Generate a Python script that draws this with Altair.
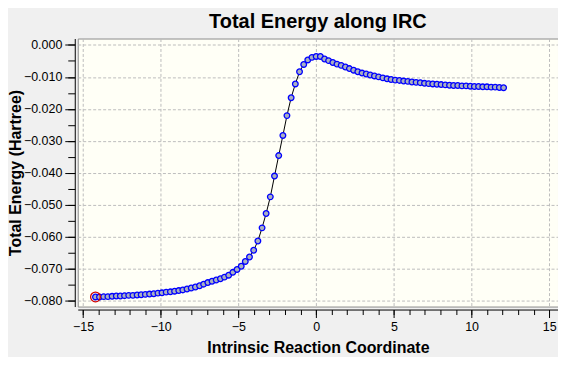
import altair as alt
import pandas as pd

# IRC coordinate (evenly spaced steps)
irc_x = [-14.20, -13.94, -13.67, -13.40, -13.13, -12.86, -12.60, -12.33, -12.06, -11.79,
         -11.52, -11.26, -10.99, -10.72, -10.45, -10.18, -9.92, -9.65, -9.38, -9.11,
         -8.84, -8.58, -8.31, -8.04, -7.77, -7.50, -7.24, -6.97, -6.70, -6.43,
         -6.16, -5.90, -5.63, -5.36, -5.09, -4.82, -4.56, -4.29, -4.02, -3.75,
         -3.48, -3.22, -2.95, -2.68, -2.41, -2.14, -1.88, -1.61, -1.34, -1.07,
         -0.80, -0.54, -0.27, 0.00, 0.27, 0.54, 0.80, 1.07, 1.34, 1.61,
         1.88, 2.14, 2.41, 2.68, 2.95, 3.22, 3.48, 3.75, 4.02, 4.29,
         4.56, 4.82, 5.09, 5.36, 5.63, 5.90, 6.16, 6.43, 6.70, 6.97,
         7.24, 7.50, 7.77, 8.04, 8.31, 8.58, 8.84, 9.11, 9.38, 9.65,
         9.92, 10.18, 10.45, 10.72, 10.99, 11.26, 11.52, 11.79, 12.06]

# Total energy (Hartree, relative)
energy = [-0.0788, -0.0788, -0.0787, -0.0787, -0.0786, -0.0785, -0.0785, -0.0784, -0.0783, -0.0783,
          -0.0782, -0.0781, -0.0780, -0.0779, -0.0778, -0.0776, -0.0775, -0.0773, -0.0772, -0.0770,
          -0.0768, -0.0766, -0.0763, -0.0760, -0.0757, -0.0753, -0.0748, -0.0743, -0.0739, -0.0735,
          -0.0731, -0.0726, -0.0720, -0.0711, -0.0702, -0.0692, -0.0677, -0.0663, -0.0642, -0.0613,
          -0.0572, -0.0527, -0.0475, -0.0410, -0.0346, -0.0283, -0.0221, -0.0165, -0.0122, -0.0084,
          -0.0061, -0.0047, -0.0039, -0.0036, -0.0036, -0.0044, -0.0049, -0.0055, -0.0060, -0.0064,
          -0.0069, -0.0074, -0.0079, -0.0084, -0.0088, -0.0091, -0.0094, -0.0097, -0.0100, -0.0103,
          -0.0106, -0.0108, -0.0110, -0.0111, -0.0113, -0.0114, -0.0116, -0.0117, -0.0118, -0.0120,
          -0.0121, -0.0122, -0.0123, -0.0124, -0.0125, -0.0126, -0.0127, -0.0127, -0.0128, -0.0128,
          -0.0129, -0.0130, -0.0130, -0.0131, -0.0131, -0.0132, -0.0132, -0.0133, -0.0134]

x_major_ticks = [-15, -10, -5, 0, 5, 10, 15]
x_minor_ticks = list(range(-15, 16))
y_major_ticks = [0.0, -0.01, -0.02, -0.03, -0.04, -0.05, -0.06, -0.07, -0.08]
y_minor_ticks = [0.0, -0.005, -0.01, -0.015, -0.02, -0.025, -0.03, -0.035, -0.04,
                 -0.045, -0.05, -0.055, -0.06, -0.065, -0.07, -0.075, -0.08]

df = pd.DataFrame({"x": irc_x, "E": energy})
df_cur = df.iloc[[0]]

FONT = "Liberation Sans"
xscale = alt.Scale(domain=[-15.34, 15.56], nice=False, zero=False)
yscale = alt.Scale(domain=[-0.0818, 0.0020], nice=False, zero=False)

x_major = alt.Axis(values=x_major_ticks, orient="bottom", offset=3, tickSize=8, tickColor="black",
                   domainColor="black", labelFont=FONT, labelFontSize=12.5, labelColor="black",
                   labelPadding=3, grid=True, gridColor="#bdbdbd", gridDash=[3, 2],
                   title="Intrinsic Reaction Coordinate", titleFont=FONT, titleFontSize=16,
                   titleFontWeight="bold", titleColor="black", titlePadding=7)
y_major = alt.Axis(values=y_major_ticks, orient="left", offset=3, tickSize=10, tickColor="black",
                   domainColor="black", labelFont=FONT, labelFontSize=12.5, labelColor="black",
                   labelPadding=3, format=".3f", grid=True, gridColor="#bdbdbd", gridDash=[3, 2],
                   title="Total Energy (Hartree)", titleFont=FONT, titleFontSize=16,
                   titleFontWeight="bold", titleColor="black", titleX=-59,
                   titleBaseline="middle")
x_minor = alt.Axis(values=x_minor_ticks, orient="bottom", offset=3, tickSize=5, tickColor="black",
                   domain=False, labels=False, grid=False, title=None)
y_minor = alt.Axis(values=y_minor_ticks, orient="left", offset=3, tickSize=7, tickColor="black",
                   domain=False, labels=False, grid=False, title=None)

line = alt.Chart(df).mark_line(color="black", strokeWidth=1).encode(
    x=alt.X("x:Q", scale=xscale, axis=x_major),
    y=alt.Y("E:Q", scale=yscale, axis=y_major),
)
pts = alt.Chart(df).mark_point(shape="circle", filled=False, fill="#a9b0c0", fillOpacity=1,
                               stroke="#0000ff", strokeWidth=1.3, size=32, opacity=1).encode(
    x=alt.X("x:Q", scale=xscale, axis=None),
    y=alt.Y("E:Q", scale=yscale, axis=None),
)
cur = alt.Chart(df_cur).mark_point(shape="circle", filled=False, stroke="#d00000",
                                   strokeWidth=1.3, size=95, opacity=1).encode(
    x=alt.X("x:Q", scale=xscale, axis=x_minor),
    y=alt.Y("E:Q", scale=yscale, axis=y_minor),
)

chart = alt.layer(line, pts, cur).resolve_axis(x="independent", y="independent").properties(
    width=482, height=269,
    autosize=alt.AutoSizeParams(type="none"),
    padding={"left": 70, "top": 30, "right": 0, "bottom": 50},
    background="#f0f0f0",
    title=alt.TitleParams("Total Energy along IRC", font=FONT, fontSize=20, fontWeight="bold",
                          color="black", anchor="middle", offset=7),
).configure_view(fill="#fffff6", stroke="#8c8c8c", strokeWidth=1)

chart.save("out.html", embed_options={"renderer": "svg", "actions": False})
